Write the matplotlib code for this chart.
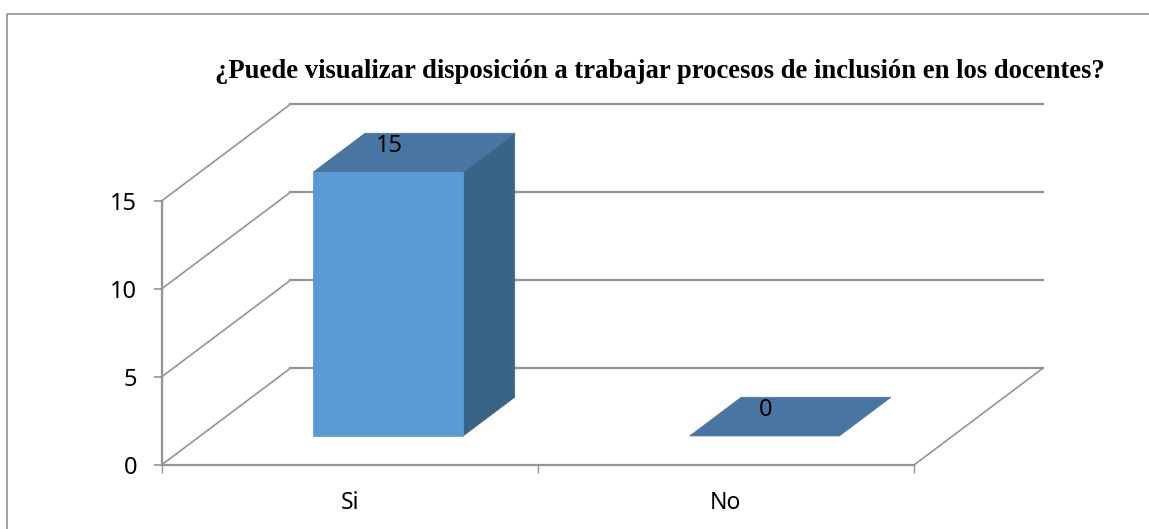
import matplotlib.pyplot as plt
from matplotlib.lines import Line2D

W = 1149
H = 529

categories = ['Si', 'No']
values = [15, 0]
y_ticks = [0, 5, 10, 15]
title = '¿Puede visualizar disposición a trabajar procesos de inclusión en los docentes?'

# fake 3D: how far the back wall is shifted, in data units
DEPTH_X = 0.3426
DEPTH_Y = 5.5
BAR_W = 0.398
BAR_D0 = 0.3
BAR_D1 = 0.7

GREY = '#949494'
FRONT = '#5b9bd5'
TOP = '#4875a1'
SIDE = '#3a6487'


def proj(x, y, d):
    return x + d*DEPTH_X, y + d*DEPTH_Y


def face(ax, corners, color):
    pts = [proj(*c) for c in corners]
    ax.fill([p[0] for p in pts], [p[1] for p in pts], color=color, lw=0.5,
            clip_on=False, zorder=3)


fig = plt.figure(figsize=(W/100, H/100), dpi=100)
ax = fig.add_axes([161.5/W, (H-465)/H, 752.5/W, 264/H])
ax.set_xlim(0, 2)
ax.set_ylim(0, 15)
ax.patch.set_visible(False)

# chart frame runs off the right and bottom of the picture
fig.add_artist(Line2D([7/W, 7/W, 1], [0, 1-13.5/H, 1-13.5/H], color='#a0a0a0', lw=1.4))

# walls and floor
for v in y_ticks:
    x0, y0 = proj(0, v, 1)
    x1, y1 = proj(len(categories), v, 1)
    ax.plot([0, x0], [v, y0], color=GREY, lw=1.2, clip_on=False, zorder=1)
    ax.plot([x0, x1], [y0, y1], color=GREY, lw=1.6, clip_on=False, zorder=1)
xr, yr = proj(len(categories), 0, 1)
ax.plot([len(categories), xr], [0, yr], color=GREY, lw=1.2, clip_on=False, zorder=1)

# bars
for i, v in enumerate(values):
    x0 = i + 0.5 - BAR_W/2
    x1 = i + 0.5 + BAR_W/2
    if v > 0:
        face(ax, [(x1, 0, BAR_D0), (x1, 0, BAR_D1), (x1, v, BAR_D1), (x1, v, BAR_D0)], SIDE)
        face(ax, [(x0, 0, BAR_D0), (x1, 0, BAR_D0), (x1, v, BAR_D0), (x0, v, BAR_D0)], FRONT)
    face(ax, [(x0, v, BAR_D0), (x1, v, BAR_D0), (x1, v, BAR_D1), (x0, v, BAR_D1)], TOP)
    ax.annotate(str(v), proj(i + 0.5, v, 0.5), xytext=(-18, 4.5), textcoords='offset points',
                ha='center', va='center', fontsize=17, family='Noto Sans', color='black',
                zorder=5, annotation_clip=False)

for s in ['top', 'right']:
    ax.spines[s].set_visible(False)
for s in ['left', 'bottom']:
    ax.spines[s].set_color(GREY)
    ax.spines[s].set_linewidth(1.6)

ax.set_yticks(y_ticks)
ax.set_xticks(range(len(categories) + 1))
ax.set_xticklabels([])
ax.set_xticks([i + 0.5 for i in range(len(categories))], labels=categories, minor=True)
ax.tick_params(axis='y', length=5.5, width=1.2, color=GREY, pad=12, labelsize=17)
ax.tick_params(axis='x', which='major', length=6, width=1.0, color=GREY)
ax.tick_params(axis='x', which='minor', length=0, pad=18.5, labelsize=16.5)
for t in ax.get_yticklabels() + ax.get_xticklabels(minor=True):
    t.set_family('Noto Sans')

fig.text(659.5/W, 1-72/H, title, family='Liberation Serif', weight='bold', fontsize=19.2,
         ha='center', va='center', color='black')

fig.savefig('out.png', dpi=100)
